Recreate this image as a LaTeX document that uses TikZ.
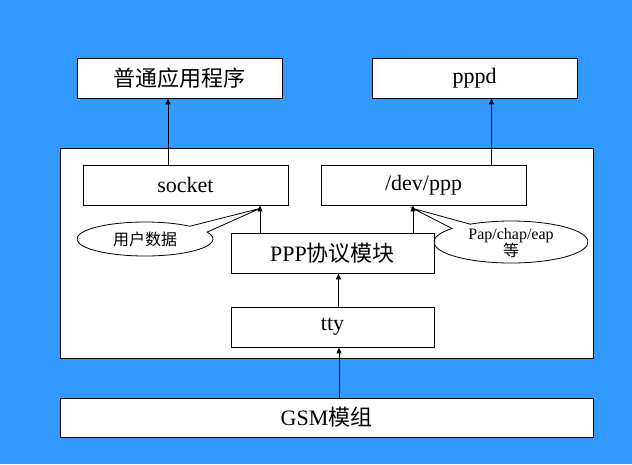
\documentclass[tikz,border=0pt]{standalone}
\usepackage{fontspec}
\setmainfont{Liberation Serif}
\newfontfamily\cjk{Noto Sans CJK SC}
\usetikzlibrary{arrows.meta,calc}
\definecolor{bgblue}{RGB}{51,153,255}
\begin{document}
\begin{tikzpicture}[x=1pt,y=1pt,
  box/.style={draw=black,fill=white,line width=0.9pt,inner sep=0pt,font=\fontsize{22}{24}\selectfont},
  arr/.style={line width=0.9pt,-{Triangle[length=6pt,width=5pt]}},
  callout/.style={draw=black,fill=white,line width=0.8pt},
  small/.style={font=\fontsize{16}{19}\selectfont}]
\fill[bgblue] (0,0) rectangle (632,-464);
\useasboundingbox (0,0) rectangle (632,-464);

\node[box,minimum width=533pt,minimum height=210pt] (cont) at (326.5,-253) {};
\node[box,minimum width=205pt,minimum height=40pt] (app) at (179.5,-78) {{\cjk 普通应用程序}};
\node[box,minimum width=205pt,minimum height=40pt] (pppd) at (474.5,-78) {pppd};
\node[box,minimum width=205pt,minimum height=40pt] (socket) at (185.5,-185) {socket};
\node[box,minimum width=205pt,minimum height=40pt] (dev) at (423.5,-185) {/dev/ppp};
\node[box,minimum width=203pt,minimum height=40pt] (ppp) at (332.5,-253) {PPP{\cjk 协议模块}};
\node[box,minimum width=203pt,minimum height=40pt] (tty) at (332.5,-327) {tty};
\node[box,minimum width=533pt,minimum height=39pt] (gsm) at (326.5,-417.5) {GSM{\cjk 模组}};

% callouts
\coordinate (tipA) at ([xshift=-72.5pt,yshift=-3pt]ppp.north |- socket.south);
\coordinate (tipB) at ([xshift=80.5pt,yshift=-3pt]ppp.north |- dev.south);
\coordinate (ellA) at (145,-239);
\coordinate (ellB) at (511,-242);
\draw[callout] (tipA) -- ($(ellA)+(48.7:68 and 17)$) arc[start angle=48.7,end angle=384,x radius=68,y radius=17] -- cycle;
\node[small] (userdata) at (ellA) {\cjk 用户数据};
\draw[callout] (tipB) -- ($(ellB)+(140:77 and 21)$) arc[start angle=140,end angle=482,x radius=77,y radius=21] -- cycle;
\node[small,align=center] (pap) at ([yshift=-1pt]ellB) {Pap/chap/eap\\[-2pt]{\cjk 等}};

% arrows
\draw[arr] ([xshift=-17.5pt]socket.north) -- ([xshift=-17.5pt]socket.north |- app.south);
\draw[arr] ([xshift=68pt]dev.north) -- ([xshift=68pt]dev.north |- pppd.south);
\draw[arr] ([xshift=-72.5pt]ppp.north) -- ([xshift=-72.5pt]ppp.north |- socket.south);
\draw[arr] ([xshift=80.5pt]ppp.north) -- ([xshift=80.5pt]ppp.north |- dev.south);
\draw[arr] ([xshift=6pt]tty.north) -- ([xshift=6pt]tty.north |- ppp.south);
\draw[arr] ([xshift=12.5pt]gsm.north) -- ([xshift=12.5pt]gsm.north |- tty.south);
\end{tikzpicture}
\end{document}
